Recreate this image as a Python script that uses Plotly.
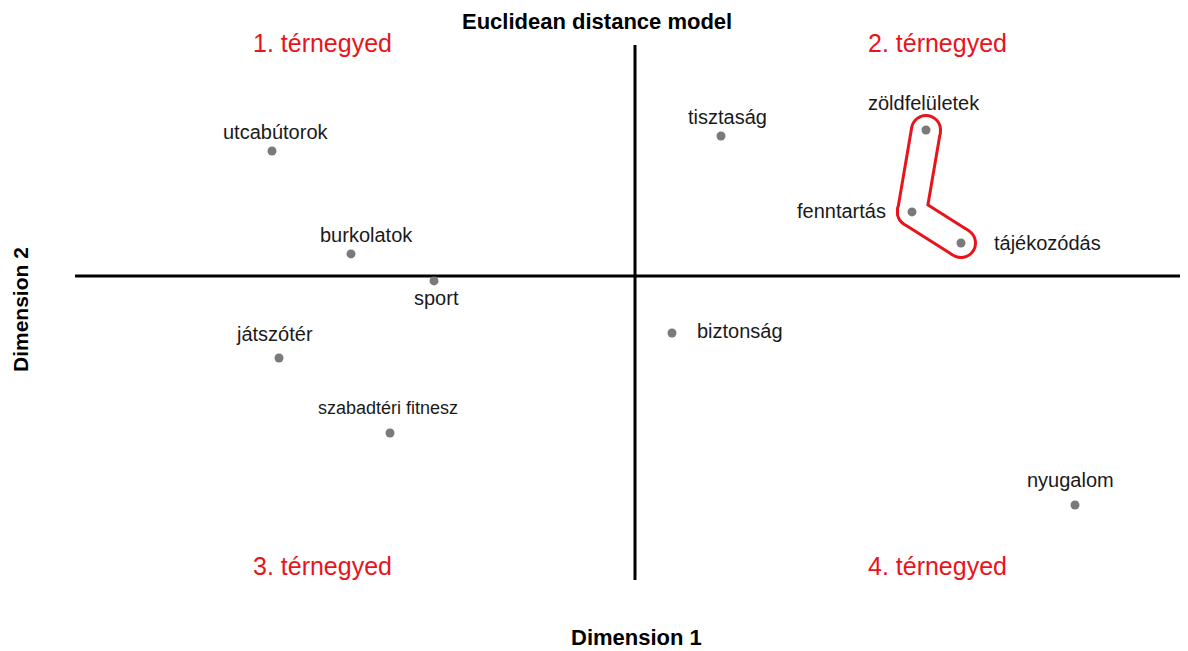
import plotly.graph_objects as go

# ---- data ----
items = ["utcabútorok", "burkolatok", "sport", "játszótér", "szabadtéri fitnesz",
         "tisztaság", "zöldfelületek", "fenntartás", "tájékozódás", "biztonság", "nyugalom"]
dim1 = [-1.815, -1.42, -1.005, -1.78, -1.225, 0.43, 1.455, 1.385, 1.63, 0.185, 2.2]
dim2 = [0.833, 0.147, -0.033, -0.547, -1.047, 0.933, 0.973, 0.427, 0.22, -0.38, -1.527]
group = ["zöldfelületek", "fenntartás", "tájékozódás"]
quadrants = ["1. térnegyed", "2. térnegyed", "3. térnegyed", "4. térnegyed"]
title = "Euclidean distance model"
xtitle = "Dimension 1"
ytitle = "Dimension 2"

# ---- styling ----
OFF = 8  # page body margin
W, H = 1188 - OFF, 651 - OFF
ML, MR, MT, MB = 75 - OFF, 0, 45 - OFF, 71
XR = [-2.8, 2.765]
YR = [-2.027, 1.54]
RED = "#e8141b"
FONT = "Liberation Sans, Arial, sans-serif"

# label placement per item: (xanchor, yanchor, xshift, yshift, size)
label_pos = {
    "utcabútorok": ("center", "middle", 4, 19, 20),
    "burkolatok": ("center", "middle", 15, 19, 20),
    "sport": ("center", "middle", 2, -17, 20),
    "játszótér": ("center", "middle", -5, 24, 20),
    "szabadtéri fitnesz": ("center", "middle", -2, 25, 18),
    "tisztaság": ("center", "middle", 6, 19, 20),
    "zöldfelületek": ("center", "middle", -2, 27, 20),
    "fenntartás": ("right", "middle", -24, 1, 20),
    "tájékozódás": ("left", "middle", 31, 0, 20),
    "biztonság": ("left", "middle", 23, 2, 20),
    "nyugalom": ("center", "middle", -5, 25, 20),
}

fig = go.Figure()

# outline around the group (thick red segments with white inner segments)
gx, gy = [], []
for a, b in zip(group[:-1], group[1:]):
    gx += [dim1[items.index(a)], dim1[items.index(b)], None]
    gy += [dim2[items.index(a)], dim2[items.index(b)], None]
fig.add_trace(go.Scatter(x=gx, y=gy, mode="lines+markers", connectgaps=False,
                         line=dict(color=RED, width=32),
                         marker=dict(color=RED, size=32),
                         hoverinfo="skip", showlegend=False))
fig.add_trace(go.Scatter(x=gx, y=gy, mode="lines+markers", connectgaps=False,
                         line=dict(color="white", width=26),
                         marker=dict(color="white", size=26),
                         hoverinfo="skip", showlegend=False))

# points
fig.add_trace(go.Scatter(x=dim1, y=dim2, mode="markers",
                         marker=dict(color="#7a7a7a", size=9),
                         text=items, hoverinfo="text", showlegend=False))

annotations = []
for name, x, y in zip(items, dim1, dim2):
    xa, ya, xs, ys, sz = label_pos[name]
    annotations.append(dict(x=x, y=y, xref="x", yref="y", text=name, showarrow=False,
                            xanchor=xa, yanchor=ya, xshift=xs, yshift=ys,
                            font=dict(family=FONT, size=sz, color="#1a1a1a")))

pw = W - ML - MR
ph = H - MT - MB


def px(xp):
    return (xp - OFF - ML) / pw


def py(yp):
    return (H - MB - (yp - OFF)) / ph


qpos = [(322, 43), (937, 43), (322, 566), (937, 566)]
for q, (qx, qy) in zip(quadrants, qpos):
    annotations.append(dict(x=px(qx), y=py(qy), xref="paper", yref="paper", text=q,
                            showarrow=False, xanchor="center", yanchor="middle",
                            font=dict(family=FONT, size=25, color=RED)))

annotations.append(dict(x=px(597), y=py(22), xref="paper", yref="paper",
                        text="<b>%s</b>" % title, showarrow=False,
                        xanchor="center", yanchor="middle",
                        font=dict(family=FONT, size=22, color="black")))
annotations.append(dict(x=px(636), y=py(637), xref="paper", yref="paper",
                        text="<b>%s</b>" % xtitle, showarrow=False,
                        xanchor="center", yanchor="middle",
                        font=dict(family=FONT, size=22, color="black")))
annotations.append(dict(x=px(20), y=py(310), xref="paper", yref="paper",
                        text="<b>%s</b>" % ytitle, showarrow=False, textangle=-90,
                        xanchor="center", yanchor="middle",
                        font=dict(family=FONT, size=21, color="black")))

shapes = [
    dict(type="line", xref="x", yref="paper", x0=0, x1=0, y0=0, y1=1,
         line=dict(color="black", width=3), layer="below"),
    dict(type="line", xref="paper", yref="y", x0=0, x1=1, y0=0, y1=0,
         line=dict(color="black", width=3), layer="below"),
]

fig.update_layout(
    width=W, height=H,
    margin=dict(l=ML, r=MR, t=MT, b=MB),
    paper_bgcolor="white", plot_bgcolor="white",
    xaxis=dict(range=XR, visible=False, fixedrange=True),
    yaxis=dict(range=YR, visible=False, fixedrange=True),
    annotations=annotations, shapes=shapes,
    showlegend=False,
)

fig.write_html("out.html")
